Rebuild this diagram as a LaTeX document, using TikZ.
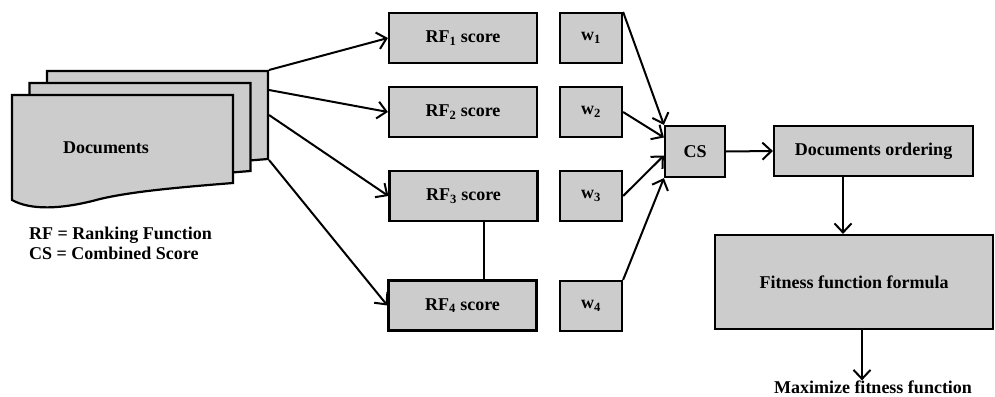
\documentclass[tikz,border=0pt]{standalone}
\usepackage{fontspec}
\setmainfont{Liberation Serif}
\usetikzlibrary{arrows.meta}
\definecolor{boxgray}{RGB}{204,204,204}
\begin{document}
\begin{tikzpicture}[x=1pt,y=-1pt,
  box/.style={draw=black, line width=2.2pt, fill=boxgray, minimum height=50pt, inner sep=0pt, font=\fontsize{18}{20}\selectfont\bfseries},
  conn/.style={line width=2pt, -{Straight Barb[length=9pt,width=17pt,line width=2pt]}},
  plain/.style={line width=2pt},
  sheet/.style={draw=black, line width=2.2pt, fill=boxgray},
  lbl/.style={font=\fontsize{18}{20}\selectfont\bfseries, inner sep=0pt, align=left}]
\useasboundingbox (0,0) rectangle (995,396);

% document stack
\foreach \s in {(35,-24),(17.5,-12),(0,0)}
  \draw[sheet, shift={\s}] (12,95) -- (233,95) -- (233,183)
     .. controls (170,188) and (130,192) .. (100,199)
     .. controls (60,210) and (30,210) .. (12,200) -- cycle;
\node[lbl] (docs) at (106,148) {Documents};
\coordinate (d1) at (269,70);
\coordinate (d2) at (269,90);
\coordinate (d3) at (269,115);
\coordinate (d4) at (269,160);

% legend
\node[lbl, anchor=west] (leg1) at (29,235) {RF = Ranking Function};
\node[lbl, anchor=west] (leg2) at (29,253) {CS = Combined Score};

% RF boxes
\node[box, minimum width=148pt] (rf1) at (463,38) {RF\textsubscript{1} score};
\node[box, minimum width=148pt] (rf2) at (463,112) {RF\textsubscript{2} score};
\node[box, minimum width=148pt] (rf3) at (463.5,196) {RF\textsubscript{3} score};
\node[box, minimum width=148pt] (rf4) at (462.5,305.5) {RF\textsubscript{4} score};

% weights
\node[box, minimum width=62pt] (w1) at (591,38) {w\textsubscript{1}};
\node[box, minimum width=62pt] (w2) at (591,112) {w\textsubscript{2}};
\node[box, minimum width=62pt] (w3) at (591,196) {w\textsubscript{3}};
\node[box, minimum width=62pt] (w4) at (591,306) {w\textsubscript{4}};

% CS and downstream
\node[box, minimum width=60pt, minimum height=51pt] (cs) at (695,151.5) {CS};
\node[box, minimum width=199pt] (ord) at (873.5,151) {Documents ordering};
\node[box, minimum width=278pt, minimum height=94pt] (fit) at (854,282) {Fitness function formula};
\node[lbl] (max) at (873,387) {Maximize fitness function};

% connectors
\draw[conn] (d1) -- (rf1.west);
\draw[conn] (d2) -- (rf2.west);
\draw[conn] (d3) -- (rf3.west);
\draw[conn] (d4) -- (rf4.west);
\draw[plain] (rf3.south -| 484,0) -- (rf4.north -| 484,0);

\draw[conn] (w1.north east) -- (cs.north west);
\draw[conn] (w2.east) -- ([yshift=14pt]cs.west);
\draw[conn] (w3.east) -- ([yshift=-4pt]cs.west);
\draw[conn] (w4.north east) -- (cs.south west);

\draw[conn] (cs.east) -- (ord.west);
\draw[conn] (ord.south -| 843,0) -- (fit.north -| 843,0);
\draw[conn] (fit.south -| 862,0) -- (max.north -| 862,0);
\end{tikzpicture}
\end{document}
